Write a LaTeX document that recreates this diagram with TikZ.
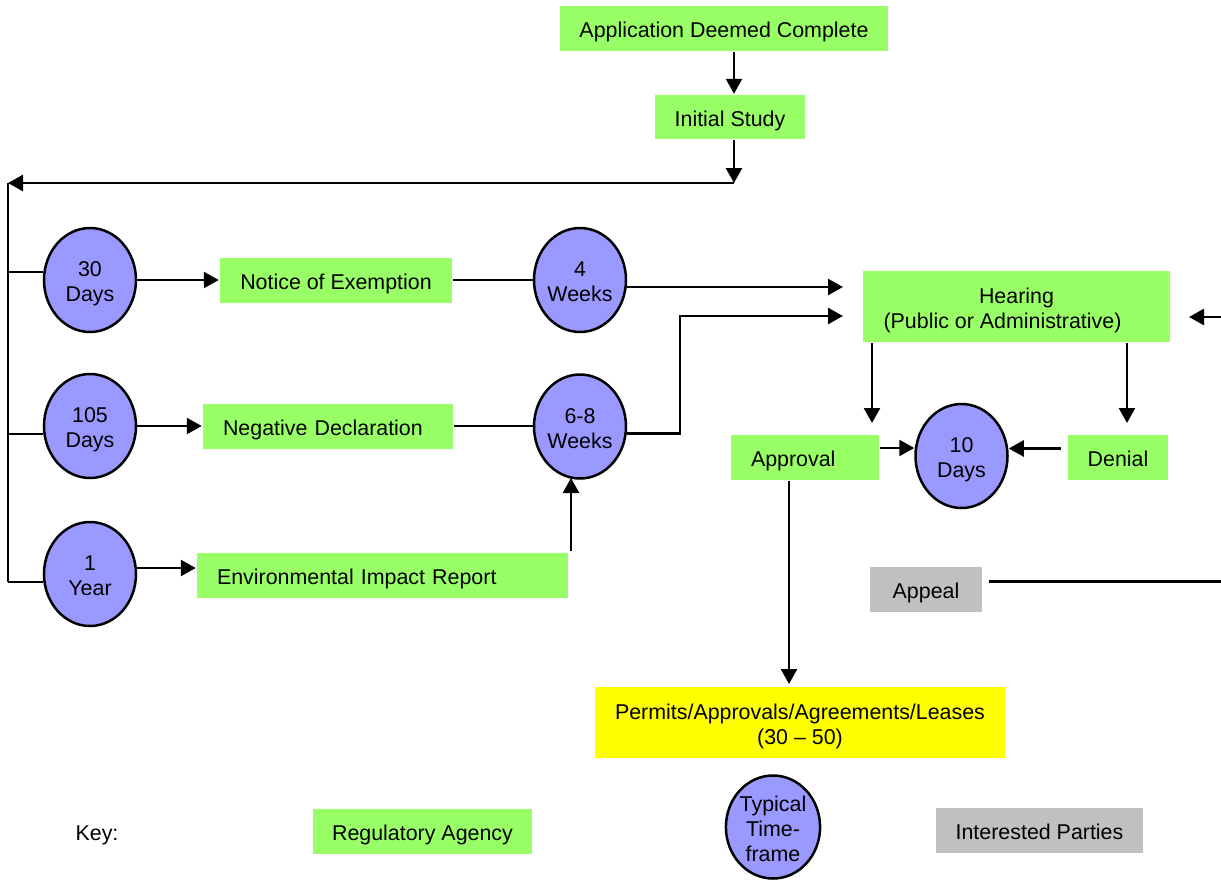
\documentclass[tikz,border=0pt]{standalone}
\usepackage{fontspec}
\setmainfont{Liberation Sans}
\usetikzlibrary{arrows.meta, shapes.geometric, calc}

\definecolor{agencygreen}{HTML}{99FF66}
\definecolor{timeblue}{HTML}{9999FF}
\definecolor{partygray}{HTML}{C0C0C0}
\definecolor{permityellow}{HTML}{FFFF00}

\tikzset{
	oneline/.style={text height=18pt, text depth=0pt},
	twolines/.style={text height=43pt, text depth=0pt},
	agency/.style={fill=agencygreen, minimum height=45pt, inner sep=0pt, align=center, oneline},
	leftbox/.style={inner xsep=20pt, align=left},
	party/.style={fill=partygray, minimum height=45pt, inner sep=0pt, oneline},
	permit/.style={fill=permityellow, minimum height=71pt, inner sep=0pt, align=center, twolines},
	timeframe/.style={ellipse, draw, fill=timeblue, minimum width=92pt, minimum height=104pt, inner sep=0pt, align=center, twolines}
}

\begin{document}
\begin{tikzpicture}[x=1pt, y=-1pt, >={Triangle[length=15pt,width=16pt]}, line width=2.5pt, font=\fontsize{21.4}{25}\selectfont]
	\useasboundingbox (0,0) rectangle (1221,879);

	% boxes
	\node[agency, minimum width=328pt] (app) at (724,28.5) {Application Deemed Complete};
	\node[agency, minimum width=150pt, minimum height=44pt] (study) at (730,117) {Initial Study};
	\node[agency, minimum width=232pt] (notice) at (336,280) {Notice of Exemption};
	\node[agency, leftbox, text width=210pt] (negdec) at (328,426) {Negative Declaration};
	\node[agency, leftbox, text width=331pt] (eir) at (382.5,575) {Environmental Impact Report};
	\node[agency, twolines, minimum width=307pt, minimum height=71pt] (hearing) at (1016.5,306.5) {Hearing\\(Public or Administrative)\hspace*{28pt}};
	\node[agency, leftbox, text width=108pt] (approval) at (805,457) {Approval};
	\node[agency, minimum width=100pt] (denial) at (1118,457.5) {Denial};
	\node[party, minimum width=112pt] (appeal) at (926,589.5) {Appeal};
	\node[permit, minimum width=410pt] (permits) at (800,722.5) {Permits/Approvals/Agreements/Leases\\(30 -- 50)};

	% time frames
	\node[timeframe] (d30) at (90,280) {30\\Days};
	\node[timeframe] (d105) at (90,426) {105\\Days};
	\node[timeframe] (d1) at (90,574) {1\\Year};
	\node[timeframe] (w4) at (580,280) {4\\Weeks};
	\node[timeframe] (w68) at (580,426.5) {6-8\\Weeks};
	\node[timeframe] (d10) at (961.5,456) {10\\Days};

	% key
	\node[oneline] (key) at (97,831) {Key:};
	\node[agency, minimum width=219pt] (regagency) at (422.5,831) {Regulatory Agency};
	\node[timeframe, text height=68pt, minimum height=103pt] (typical) at (773,827) {Typical\\Time-\\frame};
	\node[party, minimum width=207pt] (parties) at (1039.5,830.5) {Interested Parties};

	% bends and loose ends
	\coordinate (split) at (734,183);
	\coordinate (corner) at (8,183);
	\coordinate (b30) at (8,272);
	\coordinate (b105) at (8,434);
	\coordinate (b1) at (8,582);
	\coordinate (e1) at ($(d1.east)+(0,-6)$);
	\coordinate (h1) at (843,287);
	\coordinate (h2) at (843,316);
	\coordinate (w68out) at ($(w68.east)+(0,7)$);
	\coordinate (elbow) at (680,316);
	\coordinate (up68) at (571,478);
	\coordinate (ha) at (872,423);
	\coordinate (hd) at (1127,423);
	\coordinate (ap) at ($(approval.east)+(0,-9)$);
	\coordinate (dn) at ($(denial.west)+(-6,-9)$);
	\coordinate (pa) at (789,684);
	\coordinate (rin) at (1221,317);
	\coordinate (rtip) at (1189,317);
	\coordinate (ae) at ($(appeal.east)+(6,-8)$);

	% connectors
	\draw[->] (app.south -| split) -- (study.north -| split);
	\draw[->] (study.south -| split) -- (split);
	\draw[->] (split) -- (corner);
	\draw (corner) -- (b1);
	\foreach \b/\t in {b30/d30,b105/d105,b1/d1}
		\draw (\b) -- (\b -| \t.west);
	\draw[->] (d30.east) -- (d30.east -| notice.west);
	\draw[->] (d105.east) -- (d105.east -| negdec.west);
	\draw[->] (e1) -- (e1 -| eir.west);
	\draw (notice.east) -- (notice.east -| w4.west);
	\draw (negdec.east) -- (negdec.east -| w68.west);
	\draw[->] (h1 -| w4.east) -- (h1);
	\draw[->] (w68out) -| (elbow) -- (h2);
	\draw[->] (eir.north -| up68) -- (up68);
	\draw[->] (hearing.south -| ha) -- (ha);
	\draw[->] (hearing.south -| hd) -- (hd);
	\draw[->] (ap) -- (ap -| d10.west);
	\draw[->] (dn) -- (dn -| d10.east);
	\draw[->] (approval.south -| pa) -- (pa);
	\draw[->] (rin) -- (rtip);
	\draw (ae) -- (ae -| rin);
\end{tikzpicture}
\end{document}
